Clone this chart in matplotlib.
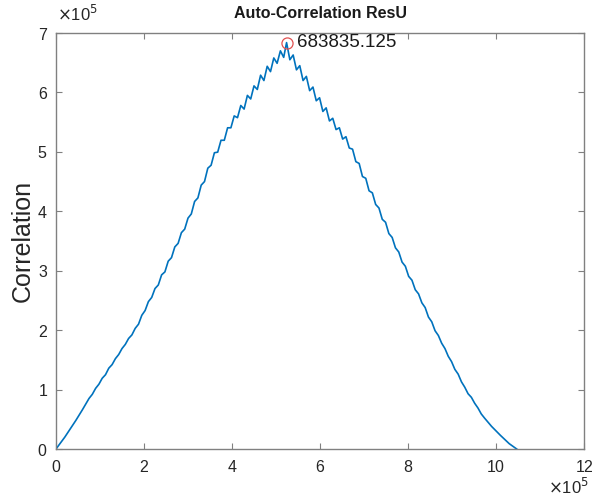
import matplotlib
matplotlib.use("Agg")
import matplotlib.pyplot as plt
from matplotlib.ticker import ScalarFormatter

plt.rcParams['font.family'] = ['Liberation Sans', 'DejaVu Sans']

# ---- data (values in units of 1e5) ----
lag_left = [0, 0.2, 0.45, 0.6, 0.75, 0.825, 0.9, 0.975, 1.05, 1.125, 1.2, 1.275, 1.35, 1.425,
            1.5, 1.575, 1.65, 1.725, 1.8, 1.875, 1.95, 2.025, 2.1, 2.175, 2.25, 2.325, 2.4,
            2.475, 2.55, 2.625, 2.7, 2.775, 2.85, 2.925, 3.0, 3.075, 3.15, 3.225, 3.3, 3.375,
            3.45, 3.525, 3.6, 3.675, 3.75, 3.825, 3.9, 3.975, 4.05, 4.125, 4.2, 4.275, 4.35,
            4.425, 4.5, 4.575, 4.65, 4.725, 4.8, 4.875, 4.95, 5.025, 5.1, 5.175, 5.24]
corr_left = [0, 0.2, 0.48, 0.66, 0.85, 0.92, 1.02, 1.09, 1.19, 1.25, 1.36, 1.42, 1.52, 1.59,
             1.69, 1.76, 1.86, 1.92, 2.03, 2.10, 2.25, 2.33, 2.48, 2.55, 2.70, 2.76, 2.93,
             2.98, 3.16, 3.22, 3.40, 3.46, 3.64, 3.70, 3.885, 3.955, 4.165, 4.225, 4.44, 4.50,
             4.725, 4.775, 4.985, 4.995, 5.195, 5.195, 5.405, 5.405, 5.605, 5.575, 5.78, 5.72,
             5.95, 5.89, 6.11, 6.05, 6.29, 6.20, 6.44, 6.35, 6.58, 6.49, 6.70, 6.59, 6.83835125]
lag_right = [5.315, 5.39, 5.465, 5.54, 5.615, 5.69, 5.765, 5.84, 5.915, 5.99, 6.065, 6.14,
             6.215, 6.29, 6.365, 6.44, 6.515, 6.59, 6.665, 6.74, 6.815, 6.89, 6.965, 7.04,
             7.115, 7.19, 7.265, 7.34, 7.415, 7.49, 7.565, 7.64, 7.715, 7.79, 7.865, 7.94,
             8.015, 8.09, 8.165, 8.24, 8.315, 8.39, 8.465, 8.54, 8.615, 8.69, 8.765, 8.84,
             8.915, 8.99, 9.065, 9.14, 9.215, 9.29, 9.365, 9.44, 9.515, 9.59, 9.665, 9.74,
             9.9, 10.1, 10.3, 10.47]
corr_right = [6.55, 6.63, 6.38, 6.45, 6.20, 6.27, 6.03, 6.09, 5.86, 5.91,
              5.68, 5.74, 5.52, 5.565, 5.375, 5.405, 5.215, 5.255, 5.065, 5.045,
              4.835, 4.805, 4.585, 4.555, 4.345, 4.31, 4.115, 4.055, 3.865, 3.815,
              3.625, 3.56, 3.385, 3.315, 3.145, 3.075, 2.905, 2.84, 2.68, 2.61,
              2.46, 2.38, 2.22, 2.14, 1.99, 1.91, 1.78, 1.69, 1.56, 1.47,
              1.34, 1.26, 1.13, 1.04, 0.93, 0.87, 0.77, 0.69, 0.59, 0.52,
              0.38, 0.23, 0.09, 0]
peak_lag = 5.24
peak_value = 683835.125
peak_label = "683835.125"
title = "Auto-Correlation ResU"
ylabel = "Correlation"
xticks = [0, 2, 4, 6, 8, 10, 12]
yticks = [0, 1, 2, 3, 4, 5, 6, 7]
scale = 1e5

lags = [v * scale for v in lag_left + lag_right]
corr = [v * scale for v in corr_left + corr_right]

fig = plt.figure(figsize=(5.94, 5.04), dpi=100)
ax = fig.add_axes([56/594, 1-449/504, (584-56)/594, (449-33)/504])

ax.plot(lags, corr, color="#0072BD", lw=1.2)
ax.plot([peak_lag*scale], [peak_value], marker="o", ms=8, mfc="none",
        mec="#e05050", mew=0.9, ls="none")
ax.text(peak_lag*scale + 0.24*scale, peak_value, peak_label, fontsize=13.5,
        va="center", ha="left", color="#1a1a1a")

ax.set_xlim(0, 12*scale)
ax.set_ylim(0, 7*scale)
ax.set_xticks([t*scale for t in xticks])
ax.set_yticks([t*scale for t in yticks])

for axis in (ax.xaxis, ax.yaxis):
    fmt = ScalarFormatter(useMathText=True)
    fmt.set_powerlimits((5, 5))
    axis.set_major_formatter(fmt)
ax.xaxis.get_offset_text().set_visible(False)
ax.yaxis.get_offset_text().set_visible(False)

# exponent labels placed as in the reference
fig.text(57/594, 1-14/504, r"$\times$10$^{5}$", fontsize=12, color="#262626",
         ha="left", va="center")
fig.text(589/594, 1-487/504, r"$\times$10$^{5}$", fontsize=12, color="#262626",
         ha="right", va="center")

ax.tick_params(direction="in", top=True, right=True, length=4, width=0.8,
               color="#808080", labelsize=11.5, labelcolor="#262626")
ax.tick_params(axis="x", pad=7)
ax.tick_params(axis="y", pad=6)
for s in ax.spines.values():
    s.set_color("#808080")
    s.set_linewidth(1.0)

ax.set_title(title, fontsize=11.5, fontweight="bold", color="#1a1a1a", pad=11)
ax.set_ylabel(ylabel, fontsize=18, color="#262626")
ax.yaxis.set_label_coords((35-56)/528, 0.5)

fig.savefig("out.png", dpi=100)
